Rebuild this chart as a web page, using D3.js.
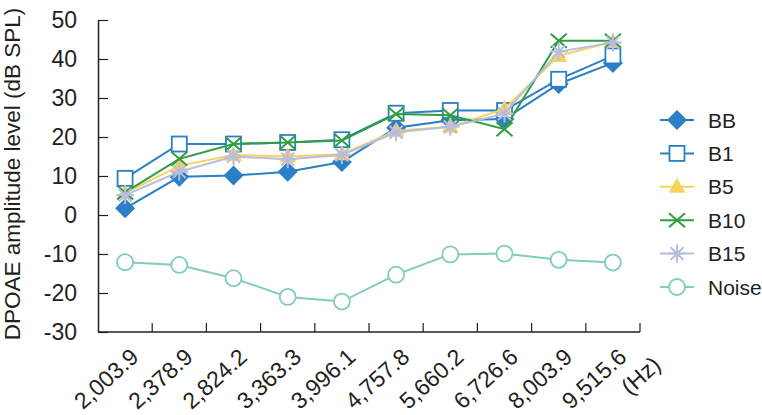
<!DOCTYPE html>
<html>
<head>
<meta charset="utf-8">
<script src="https://cdn.jsdelivr.net/npm/d3@7"></script>
<style>
  body { margin: 0; background: #fff; }
  text { font-family: "Liberation Sans", Arial, Helvetica, sans-serif; fill: #231f20; }
</style>
</head>
<body>
<script>
var categories = ["2,003.9", "2,378.9", "2,824.2", "3,363.3", "3,996.1", "4,757.8", "5,660.2", "6,726.6", "8,003.9", "9,515.6"];
var yTicks = [-30, -20, -10, 0, 10, 20, 30, 40, 50];

var valuesBB = [1.7, 9.8, 10.1, 11.1, 13.6, 22.4, 24.3, 24.6, 33.6, 39.0];
var valuesB1 = [9.4, 18.2, 18.2, 18.6, 19.3, 26.1, 26.8, 26.8, 34.8, 40.8];
var valuesB5 = [5.6, 12.6, 15.4, 15.0, 15.6, 21.6, 22.6, 27.2, 40.8, 44.4];
var valuesB10 = [5.8, 14.4, 18.2, 18.6, 19.1, 25.9, 25.6, 22.0, 44.7, 44.7];
var valuesB15 = [5.1, 11.1, 15.0, 14.3, 15.4, 21.2, 22.6, 26.0, 41.9, 44.2];
var valuesNoise = [-12.1, -12.8, -16.2, -21.0, -22.2, -15.3, -10.1, -9.9, -11.5, -12.2];

var series = [
    { name: "BB", values: valuesBB, color: "#2b7fc6", marker: "diamond" },
    { name: "B1", values: valuesB1, color: "#2b7fc6", marker: "square" },
    { name: "B5", values: valuesB5, color: "#f7d35c", marker: "triangle" },
    { name: "B10", values: valuesB10, color: "#2e9e40", marker: "cross" },
    { name: "B15", values: valuesB15, color: "#b7bde0", marker: "star" },
    { name: "Noise", values: valuesNoise, color: "#7fcdbb", marker: "circle" }
];

var width = 762, height = 415;
var plotLeft = 98, plotRight = 640, plotTop = 20, plotBottom = 332;

var svg = d3.select("body").append("svg")
    .attr("width", width)
    .attr("height", height);

var x = d3.scaleBand().domain(categories).range([plotLeft, plotRight]).padding(0);
var y = d3.scaleLinear().domain([-30, 50]).range([plotBottom, plotTop]);

// y axis, ticks pointing inward
var yAxis = svg.append("g")
    .attr("transform", "translate(" + plotLeft + ",0)")
    .call(d3.axisLeft(y).tickValues(yTicks).tickFormat(d => String(d))
        .tickSize(-10).tickSizeOuter(0).tickPadding(21));
yAxis.select(".domain").attr("stroke", "#231f20").attr("stroke-width", 1.5);
yAxis.selectAll(".tick line").attr("stroke", "#231f20").attr("stroke-width", 1.2);
yAxis.selectAll(".tick text")
    .attr("font-size", "23px")
    .attr("fill", "#231f20")
    .style("font-family", "'Liberation Sans', Arial, sans-serif");

// x axis: line plus ticks at band edges
var xAxis = svg.append("g");
xAxis.append("line")
    .attr("x1", plotLeft).attr("x2", plotRight)
    .attr("y1", plotBottom).attr("y2", plotBottom)
    .attr("stroke", "#231f20").attr("stroke-width", 1.5);
xAxis.selectAll(".xtick")
    .data(categories)
    .enter()
    .append("line")
    .attr("x1", d => x(d) + x.bandwidth())
    .attr("x2", d => x(d) + x.bandwidth())
    .attr("y1", plotBottom)
    .attr("y2", plotBottom - 9)
    .attr("stroke", "#231f20").attr("stroke-width", 1.2);
xAxis.selectAll(".xlabel")
    .data(categories)
    .enter()
    .append("text")
    .attr("transform", d => "translate(" + (x(d) + x.bandwidth() / 2 + 15) + "," + 359 + ") rotate(-42)")
    .attr("text-anchor", "end")
    .attr("font-size", "23px")
    .text(d => d);

svg.append("text")
    .attr("transform", "translate(" + 630 + "," + 396 + ") rotate(-42)")
    .attr("font-size", "23px")
    .text("(Hz)");

// y axis title
svg.append("text")
    .attr("transform", "translate(" + 20 + "," + 174 + ") rotate(-90)")
    .attr("text-anchor", "middle")
    .attr("font-size", "22.5px")
    .text("DPOAE amplitude level (dB SPL)");

function drawMarker(g, type, color) {
    if (type === "diamond") {
        g.append("path").attr("d", "M0,-10L10,0L0,10L-10,0Z").attr("fill", color);
    } else if (type === "square") {
        g.append("rect").attr("x", -7.5).attr("y", -7.5).attr("width", 15).attr("height", 15)
            .attr("fill", "#fff").attr("stroke", color).attr("stroke-width", 1.8);
    } else if (type === "triangle") {
        g.append("path").attr("d", "M0,-9L8.5,6L-8.5,6Z").attr("fill", color);
    } else if (type === "cross") {
        g.append("path").attr("d", "M-8,-7L8,7M-8,7L8,-7").attr("stroke", color).attr("stroke-width", 2);
    } else if (type === "star") {
        g.append("path").attr("d", "M0,-9V9M-9,0H9M-6.4,-6.4L6.4,6.4M-6.4,6.4L6.4,-6.4")
            .attr("stroke", color).attr("stroke-width", 2);
    } else if (type === "circle") {
        g.append("circle").attr("r", 8).attr("fill", "#fff").attr("stroke", color).attr("stroke-width", 1.8);
    }
}

var line = d3.line()
    .x((d, i) => x(categories[i]) + x.bandwidth() / 2)
    .y(d => y(d));

series.forEach(s => {
    svg.append("path")
        .datum(s.values)
        .attr("d", line)
        .attr("fill", "none")
        .attr("stroke", s.color)
        .attr("stroke-width", 2);
    s.values.forEach((v, i) => {
        var g = svg.append("g")
            .attr("transform", "translate(" + (x(categories[i]) + x.bandwidth() / 2) + "," + y(v) + ")");
        drawMarker(g, s.marker, s.color);
    });
});

// legend
var legend = svg.append("g");
series.forEach((s, i) => {
    var ly = 120 + i * 33.4;
    legend.append("line")
        .attr("x1", 660).attr("x2", 694)
        .attr("y1", ly).attr("y2", ly)
        .attr("stroke", s.color).attr("stroke-width", 2);
    var g = legend.append("g").attr("transform", "translate(677," + ly + ")");
    drawMarker(g, s.marker, s.color);
    legend.append("text")
        .attr("x", 708)
        .attr("y", ly)
        .attr("dy", "0.36em")
        .attr("font-size", "21px")
        .text(s.name);
});
</script>
</body>
</html>
